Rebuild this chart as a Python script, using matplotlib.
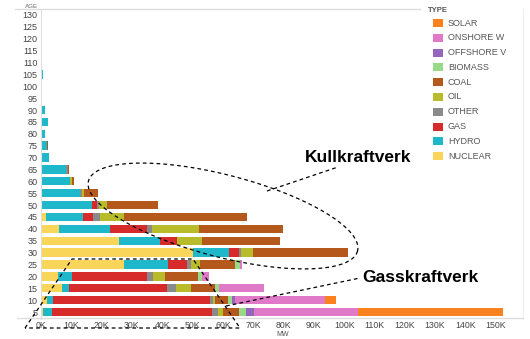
import numpy as np
import matplotlib
matplotlib.use("Agg")
import matplotlib.pyplot as plt
from matplotlib.lines import Line2D
from matplotlib.patches import Rectangle

matplotlib.rcParams['font.family'] = ['Liberation Sans', 'DejaVu Sans']

# ── data (MW in thousands, per plant age) ──────────────────────
ages = [5, 10, 15, 20, 25, 30, 35, 40, 45, 50, 55, 60, 65, 70, 75, 80,
        85, 90, 95, 100, 105, 110]
nuclear  = [0.6, 1.9, 6.8, 5.7, 27.4, 50.0, 25.8, 6.0, 1.7, 0, 0, 0, 0, 0, 0, 0, 0, 0, 0, 0, 0, 0]
hydro    = [3.1, 2.0, 2.4, 4.4, 14.4, 12.0, 13.5, 16.8, 12.3, 16.7, 12.9, 9.6, 8.3, 2.6, 1.9, 1.3, 2.2, 1.2, 0.2, 0, 0.5, 0.3]
gas      = [52.6, 51.9, 32.5, 24.8, 6.3, 3.3, 5.5, 12.1, 3.3, 1.8, 0, 0, 0, 0, 0, 0, 0, 0, 0, 0, 0, 0]
other    = [2.2, 0.8, 2.7, 2.2, 1.4, 0.6, 0, 1.6, 2.2, 0.6, 0.5, 0, 0.5, 0, 0, 0, 0, 0, 0, 0, 0, 0]
oil      = [1.5, 0.8, 5.1, 3.8, 3.0, 4.0, 8.2, 15.6, 7.9, 2.6, 0.8, 0.5, 0, 0, 0, 0, 0, 0, 0, 0, 0, 0]
coal     = [5.4, 4.3, 7.9, 11.0, 11.5, 31.3, 25.7, 27.6, 40.5, 16.8, 4.7, 0.8, 0.3, 0, 0.3, 0, 0, 0, 0, 0, 0, 0]
biomass  = [2.3, 1.2, 1.4, 1.2, 1.7, 0, 0, 0, 0, 0, 0, 0, 0, 0, 0, 0, 0, 0, 0, 0, 0, 0]
offshore = [2.7, 1.1, 0, 0, 0, 0, 0, 0, 0, 0, 0, 0, 0, 0, 0, 0, 0, 0, 0, 0, 0, 0]
onshore  = [34.3, 29.7, 14.8, 2.4, 0.6, 0, 0, 0, 0, 0, 0, 0, 0, 0, 0, 0, 0, 0, 0, 0, 0, 0]
solar    = [47.7, 3.6, 0, 0, 0, 0, 0, 0, 0, 0, 0, 0, 0, 0, 0, 0, 0, 0, 0, 0, 0, 0]

type_names = ["NUCLEAR", "HYDRO", "GAS", "OTHER", "OIL", "COAL",
              "BIOMASS", "OFFSHORE V", "ONSHORE W", "SOLAR"]
series = [nuclear, hydro, gas, other, oil, coal, biomass, offshore, onshore, solar]
colors = ["#F9D55A", "#1FB8CB", "#D62A2B", "#8A8A8A", "#B9BC2A",
          "#B5581B", "#98DA8A", "#9467BD", "#E07AC8", "#F9821E"]

age_ticks = list(range(5, 135, 5))
mw_ticks = list(range(0, 160, 10))

W, H = 530, 339
fig = plt.figure(figsize=(W / 100, H / 100), dpi=100)
ax = fig.add_axes([41 / W, 1 - 319 / H, (523 - 41) / W, (319 - 9) / H])

left = np.zeros(len(ages))
for vals, col in zip(series, colors):
    ax.barh(ages, vals, left=left, height=3.5, color=col, linewidth=0)
    left += np.array(vals)

ax.set_xlim(0, 159)
ax.set_ylim(2.06, 132.5)
ax.set_yticks(age_ticks)
ax.set_yticklabels([str(a) for a in age_ticks], fontsize=6.5, color="#444444")
ax.set_xticks(mw_ticks)
ax.set_xticklabels([f"{m}K" for m in mw_ticks], fontsize=6.3, color="#444444")
ax.tick_params(axis="y", length=0, pad=2.5)
ax.tick_params(axis="x", length=0, pad=1.5)
for s in ["top", "bottom"]:
    ax.spines[s].set_visible(False)
ax.spines["left"].set_color("#dddddd")
ax.spines["right"].set_color("#eeeeee")
ax.spines["left"].set_linewidth(0.8)
ax.spines["right"].set_linewidth(0.8)


def px(x, y):
    return x / W, 1 - y / H


fig.text(*px(283, 334.5), "MW", fontsize=5, color="#555555", ha="center", va="center")

# light frame lines (top and bottom)
fig.add_artist(Line2D([15 / W, 420 / W], [1 - 9 / H] * 2, color="#dddddd", lw=1))
fig.add_artist(Line2D([17 / W, 523 / W], [1 - 318 / H] * 2, color="#dddddd", lw=1))
fig.text(*px(32, 6), "AGE", fontsize=4.5, color="#666666", ha="center", va="center")

# legend
fig.text(*px(428, 10.5), "TYPE", fontsize=5.5, fontweight="bold", color="#555555",
         ha="left", va="center")
for i, (name, col) in enumerate(zip(type_names[::-1], colors[::-1])):
    cy = 23 + 14.8 * i
    x0, y0 = px(433, cy + 4)
    fig.add_artist(Rectangle((x0, y0), 10 / W, 8 / H, transform=fig.transFigure,
                             color=col, lw=0))
    fig.text(*px(448, cy), name, fontsize=6.5, color="#555555", ha="left", va="center")

# dashed annotations
cx, cy0, a, b, th = 223, 216, 139, 41, np.radians(14.6)
t = np.linspace(0, 2 * np.pi, 200)
ex = cx + a * np.cos(t) * np.cos(th) - b * np.sin(t) * np.sin(th)
ey = cy0 + a * np.cos(t) * np.sin(th) + b * np.sin(t) * np.cos(th)
dash = dict(color="black", lw=0.9, ls=(0, (3, 2.5)))
fig.add_artist(Line2D(ex / W, 1 - ey / H, **dash))
fig.add_artist(Line2D([267 / W, 338 / W], [1 - 191 / H, 1 - 167 / H], **dash))

trap_x = np.array([25, 72, 193, 240, 25])
trap_y = np.array([328, 259, 259, 328, 328])
fig.add_artist(Line2D(trap_x / W, 1 - trap_y / H, **dash))
fig.add_artist(Line2D([226 / W, 360 / W], [1 - 306 / H, 1 - 278 / H], **dash))

fig.text(*px(358, 157), "Kullkraftverk", fontsize=12.5, fontweight="bold",
         ha="center", va="center")
fig.text(*px(420, 277), "Gasskraftverk", fontsize=12.5, fontweight="bold",
         ha="center", va="center")

fig.savefig("out.png", dpi=100)
